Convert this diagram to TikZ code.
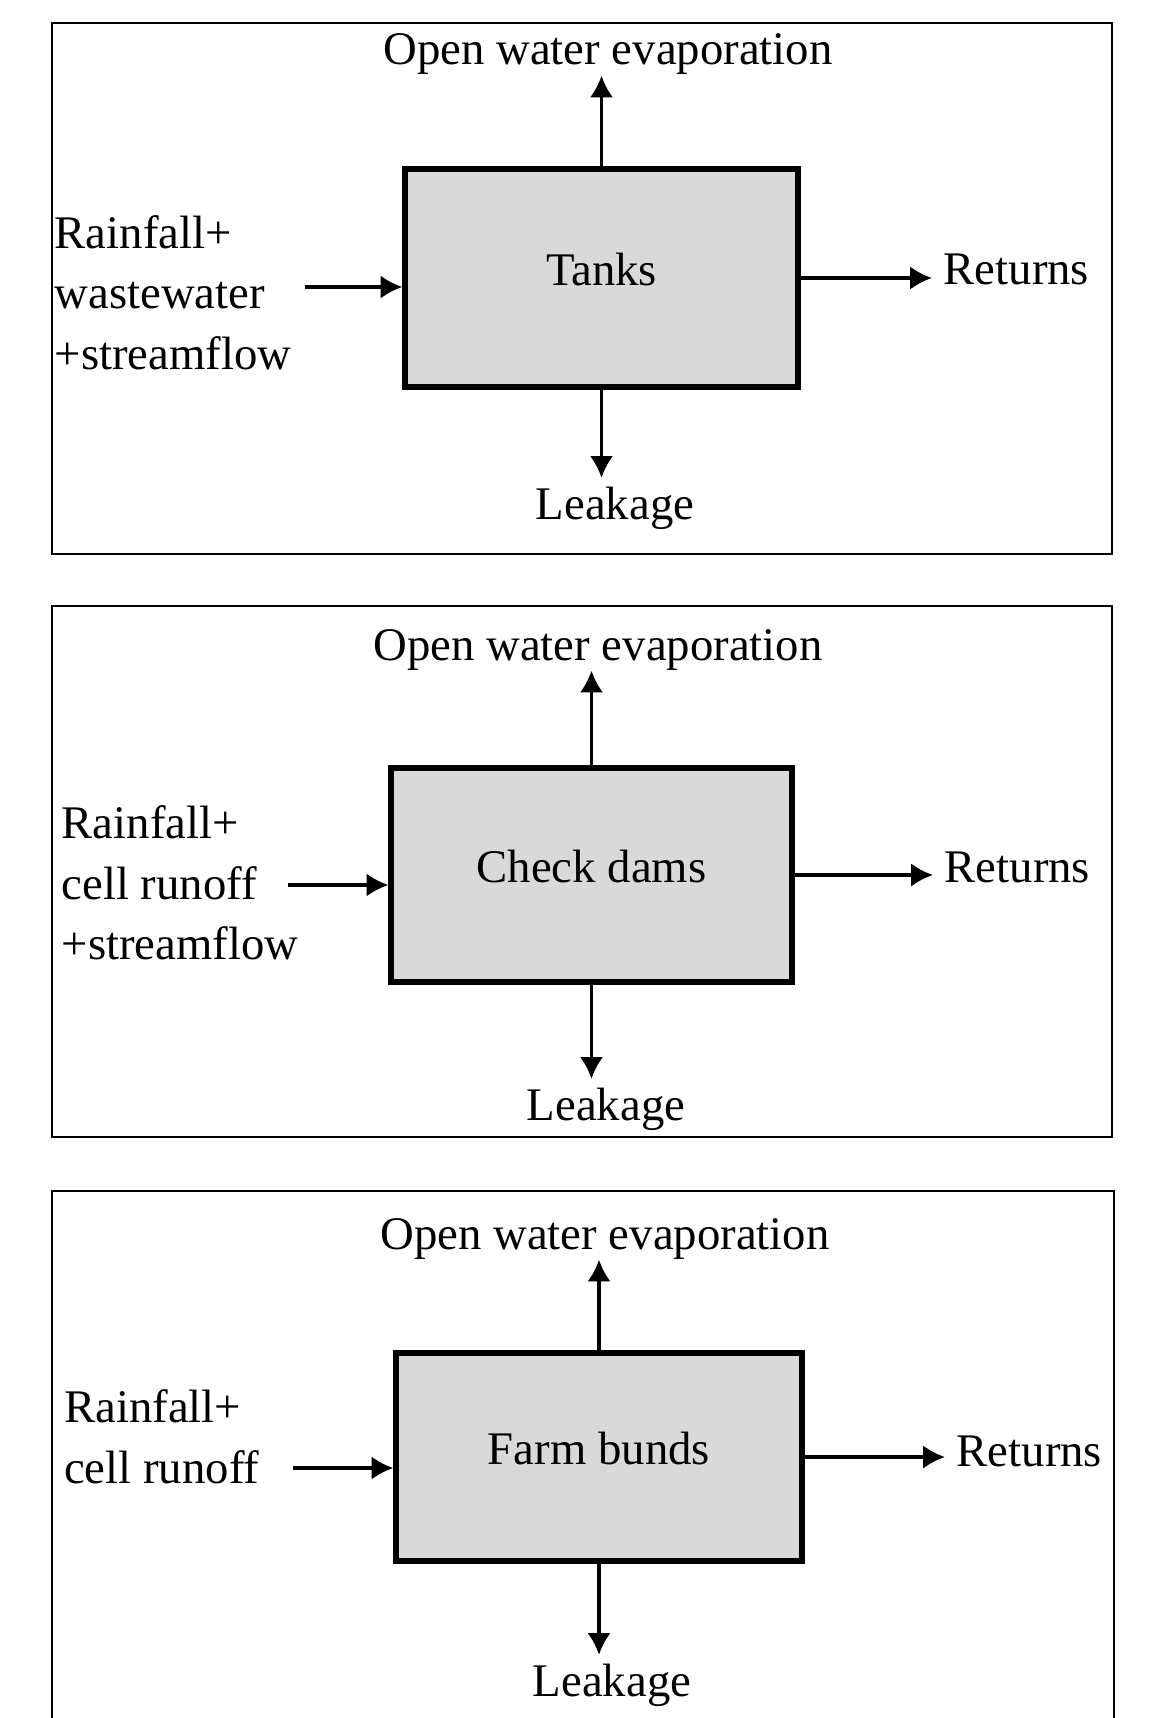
\documentclass[tikz,border=0pt]{standalone}
\usepackage{fontspec}
\setmainfont{Liberation Serif}
\usetikzlibrary{arrows.meta}

\tikzset{
  panelbox/.style={draw, line width=0.6pt},
  store/.style={draw, line width=1.5pt, fill=gray!30, text depth=0.18cm, inner sep=0pt},
  flow/.style={-{Latex[length=6.2pt,width=6.6pt]}, line width=0.9pt},
  lab/.style={inner sep=0pt},
  leaklab/.style={inner sep=0pt, inner ysep=0.08cm},
  retlab/.style={inner sep=0pt, inner xsep=0.11cm},
}

\begin{document}
\begin{tikzpicture}[font=\fontsize{13.3}{17.2}\selectfont]
  \useasboundingbox (0,0) rectangle (11.58,-17.18);

  % tanks
  \draw[panelbox] (0.517,-0.233) rectangle (11.12,-5.54);
  \node[store, minimum width=3.93cm, minimum height=2.18cm] (tank) at (6.015,-2.78) {Tanks};
  \node[lab, anchor=base] (evapA) at (6.08,-0.65) {Open water evaporation};
  \node[leaklab, anchor=base] (leakA) at (6.15,-5.19) {Leakage};
  \node[lab, anchor=north west, align=left] (inA) at (0.54,-2.145) {Rainfall+\\wastewater\\+streamflow};
  \node[retlab, anchor=base west] (retA) at (9.32,-2.85) {Returns};
  \coordinate (srcA) at (3.05,-2.87);
  \draw[flow] (tank.north) -- (tank.north |- evapA.south);
  \draw[flow] (tank.south) -- (tank.south |- leakA.north);
  \draw[flow] (srcA) -- (srcA -| tank.west);
  \draw[flow] (tank.east) -- (tank.east -| retA.west);

  % check dams
  \draw[panelbox] (0.517,-6.06) rectangle (11.12,-11.367);
  \node[store, minimum width=4.01cm, minimum height=2.14cm] (dam) at (5.915,-8.75) {Check dams};
  \node[lab, anchor=base] (evapB) at (5.98,-6.60) {Open water evaporation};
  \node[leaklab, anchor=base] (leakB) at (6.06,-11.20) {Leakage};
  \node[lab, anchor=north west, align=left] (inB) at (0.61,-8.05) {Rainfall+\\cell runoff\\+streamflow};
  \node[retlab, anchor=base west] (retB) at (9.33,-8.82) {Returns};
  \coordinate (srcB) at (2.88,-8.85);
  \draw[flow] (dam.north) -- (dam.north |- evapB.south);
  \draw[flow] (dam.south) -- (dam.south |- leakB.north);
  \draw[flow] (srcB) -- (srcB -| dam.west);
  \draw[flow] (dam.east) -- (dam.east -| retB.west);

  % farm bunds, frame runs off the bottom
  \draw[panelbox] (0.517,-17.18) -- (0.517,-11.91) -- (11.14,-11.91) -- (11.14,-17.18);
  \node[store, minimum width=4.06cm, minimum height=2.08cm] (bund) at (5.99,-14.57) {Farm bunds};
  \node[lab, anchor=base] (evapC) at (6.05,-12.49) {Open water evaporation};
  \node[leaklab, anchor=base] (leakC) at (6.12,-16.96) {Leakage};
  \node[lab, anchor=north west, align=left] (inC) at (0.635,-13.89) {Rainfall+\\cell runoff};
  \node[retlab, anchor=base west] (retC) at (9.45,-14.66) {Returns};
  \coordinate (srcC) at (2.93,-14.68);
  \draw[flow] (bund.north) -- (bund.north |- evapC.south);
  \draw[flow] (bund.south) -- (bund.south |- leakC.north);
  \draw[flow] (srcC) -- (srcC -| bund.west);
  \draw[flow] (bund.east) -- (bund.east -| retC.west);
\end{tikzpicture}
\end{document}
